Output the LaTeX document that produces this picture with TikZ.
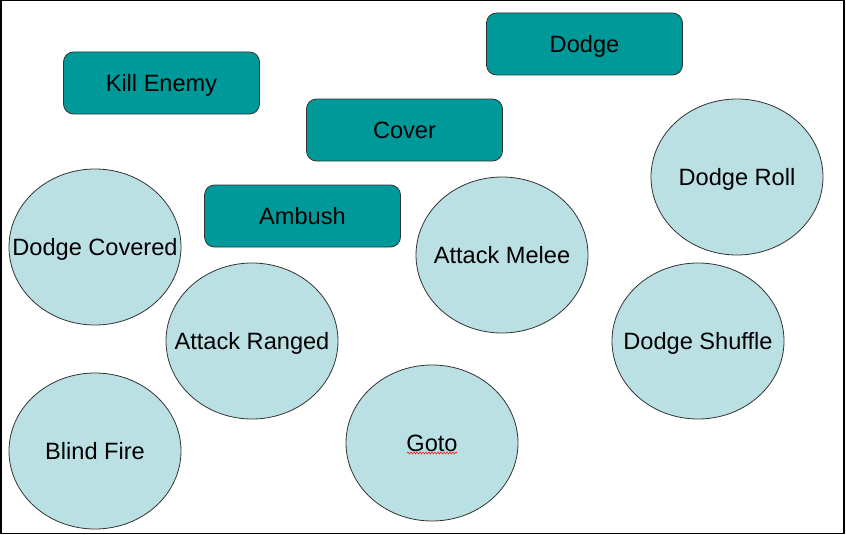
\documentclass[tikz,border=0pt]{standalone}
\usepackage{fontspec}
\setmainfont{Liberation Sans}
\usetikzlibrary{shapes.geometric,decorations.pathmorphing}
\definecolor{boxteal}{HTML}{009999}
\definecolor{ellfill}{HTML}{BBE0E3}
\definecolor{edge}{HTML}{333333}
\begin{document}
\begin{tikzpicture}[x=1pt,y=-1pt,
  txt/.style={font=\fontsize{23.6}{28}\selectfont, text=black, inner sep=0pt, text height=17pt, text depth=0pt},
  taskbox/.style={txt, draw=edge, line width=0.8pt, fill=boxteal, rounded corners=10pt,
    minimum width=196pt, minimum height=62pt},
  actell/.style={ellipse, draw=edge, line width=0.8pt, fill=ellfill, inner sep=0pt,
    minimum width=172pt, minimum height=156pt},
  elltext/.style={label={[txt]center:#1}}]
\useasboundingbox (0,0) rectangle (846,535);
\draw[line width=1.5pt] (0.75,0.75) rectangle (844,533.5);
% boxes
\node[taskbox] (kill)   at (161.5,83)  {Kill Enemy};
\node[taskbox] (dodge)  at (584.5,44)  {Dodge};
\node[taskbox] (cover)  at (404.5,130) {Cover};
\node[taskbox] (ambush) at (302.5,216) {Ambush};
% ellipses
\node[actell, elltext={Dodge Covered}] (dcov)    at (95,247)  {};
\node[actell, elltext={Attack Ranged}] (aranged) at (252,341) {};
\node[actell, elltext={Blind Fire}]    (blind)   at (95,451)  {};
\node[actell, elltext={Goto}]          (goto)    at (432,443) {};
\node[actell, elltext={Attack Melee}]  (amelee)  at (502,255) {};
\node[actell, elltext={Dodge Roll}]    (droll)   at (737,177) {};
\node[actell, elltext={Dodge Shuffle}] (dshuf)   at (698,341) {};
% spell-check squiggle under Goto
\coordinate (sqa) at (407,453);
\coordinate (sqb) at (457,453);
\draw[red, line width=0.5pt, decorate, decoration={snake, amplitude=1pt, segment length=3pt}] (sqa) -- (sqb);
\end{tikzpicture}
\end{document}
